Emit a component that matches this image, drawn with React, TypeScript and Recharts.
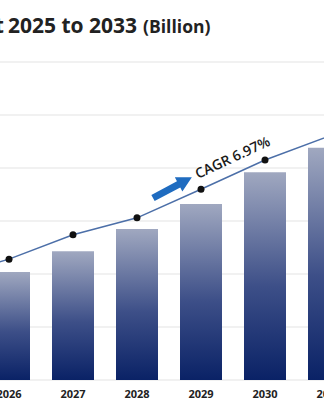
import { ComposedChart, Bar, Line, XAxis, YAxis, CartesianGrid } from "recharts";

// years shown on the axis (2025 and 2032-33 sit just outside the crop)
const YEARS = ["2025", "2026", "2027", "2028", "2029", "2030", "2031", "2032", "2033"];
const MARKET_SIZE = [17.0, 20.4, 24.3, 28.5, 33.2, 39.2, 43.8, 47.5, 51.0];
const TREND = [19.4, 22.8, 27.4, 30.6, 36.0, 41.5, 46.0, 50.0, 54.0];
const Y_TICKS = [0, 10, 20, 30, 40, 50, 60];

const TITLE_LEAD = "Market";
const TITLE_MAIN = "2025 to 2033";
const TITLE_UNIT = "(Billion)";
const CAGR_LABEL = "CAGR 6.97%";

const FONT = "'Open Sans', 'Liberation Sans', sans-serif";

const data = YEARS.map((year, i) => ({
  year,
  size: MARKET_SIZE[i],
  trend: TREND[i],
}));

export default function App() {
  return (
    <div
      style={{
        position: "fixed",
        top: 0,
        left: 0,
        width: 324,
        height: 405,
        overflow: "hidden",
        background: "#fff",
        fontFamily: FONT,
      }}
    >
      {/* chart is wider than the window, shifted left so 2026 sits at the edge */}
      <div style={{ position: "absolute", left: -87, top: 0 }}>
        <ComposedChart
          width={576}
          height={405}
          data={data}
          margin={{ top: 62, right: 0, bottom: 0, left: 0 }}
        >
          <defs>
            <linearGradient id="barFill" x1="0" y1="0" x2="0" y2="1">
              <stop offset="0%" stopColor="#a0a8c0" />
              <stop offset="55%" stopColor="#3d4f88" />
              <stop offset="100%" stopColor="#0a2266" />
            </linearGradient>
          </defs>
          <CartesianGrid vertical={false} stroke="#e3e3e3" strokeWidth={1} />
          <XAxis
            dataKey="year"
            height={25}
            axisLine={false}
            tickLine={false}
            tickSize={0}
            tickMargin={10}
            interval={0}
            tick={{ fontSize: 11, fontWeight: 700, fill: "#222", fontFamily: FONT }}
          />
          <YAxis hide domain={[0, 60]} ticks={Y_TICKS} />
          <Bar dataKey="size" barSize={42} fill="url(#barFill)" isAnimationActive={false} />
          <Line
            dataKey="trend"
            type="linear"
            stroke="#4c6fa8"
            strokeWidth={1.5}
            dot={{ r: 3.5, fill: "#111", stroke: "none" }}
            isAnimationActive={false}
          />
        </ComposedChart>
      </div>

      {/* title, cut off on the left as in the source */}
      <svg
        width={324}
        height={50}
        style={{ position: "absolute", left: 0, top: 0 }}
        fontFamily={FONT}
      >
        <text x={4} y={33} textAnchor="end" fontSize={21} fontWeight={700} fill="#222">
          {TITLE_LEAD}
        </text>
        <text x={8} y={33} fontSize={21} fontWeight={700} fill="#222">
          {TITLE_MAIN}
          <tspan dx={6} fontSize={17.5}>
            {TITLE_UNIT}
          </tspan>
        </text>
      </svg>

      {/* CAGR annotation */}
      <svg
        width={324}
        height={405}
        style={{ position: "absolute", left: 0, top: 0, pointerEvents: "none" }}
        fontFamily={FONT}
      >
        <g transform="translate(153,198) rotate(-28)">
          <polygon points="0,-3.5 29,-3.5 29,-8 44,0 29,8 29,3.5 0,3.5" fill="#1f6cc0" />
        </g>
        <text
          x={198}
          y={179}
          transform="rotate(-25 198 179)"
          fontSize={14}
          fontWeight={600}
          fill="#1a1a1a"
        >
          {CAGR_LABEL}
        </text>
      </svg>
    </div>
  );
}
